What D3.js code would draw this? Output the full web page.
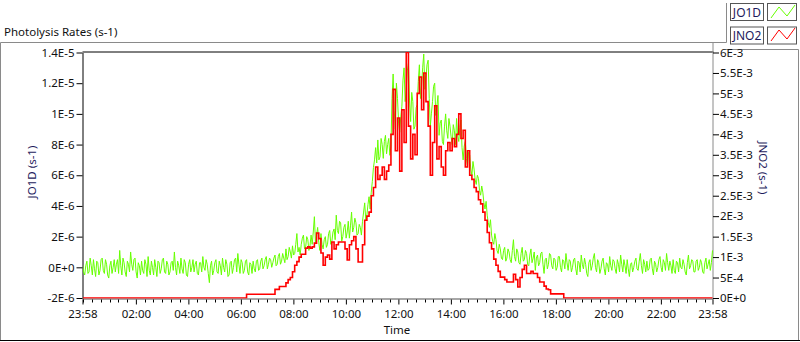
<!DOCTYPE html>
<html><head><meta charset="utf-8">
<script src="https://cdn.jsdelivr.net/npm/d3@7"></script>
<style>
body{margin:0;background:#fff}
svg{display:block}
text{font-family:"Noto Sans","Open Sans",sans-serif;}
</style>
</head><body>
<svg id="chart" width="800" height="342"></svg>
<script>
// ---- axis tick definitions ----
const xTickMinutes = [0,122,242,362,482,602,722,842,962,1082,1202,1322,1440]; // minutes after 23:58
const xTickLabels = ["23:58","02:00","04:00","06:00","08:00","10:00","12:00","14:00","16:00","18:00","20:00","22:00","23:58"];
const jo1dTicks = [-2,0,2,4,6,8,10,12,14];            // units of 1E-6 s-1
const jo1dTickLabels = ["-2E-6","0E+0","2E-6","4E-6","6E-6","8E-6","1E-5","1.2E-5","1.4E-5"];
const jno2Ticks = [0,0.5,1,1.5,2,2.5,3,3.5,4,4.5,5,5.5,6]; // units of 1E-3 s-1
const jno2TickLabels = ["0E+0","5E-4","1E-3","1.5E-3","2E-3","2.5E-3","3E-3","3.5E-3","4E-3","4.5E-3","5E-3","5.5E-3","6E-3"];
const seriesNames = ["JO1D","JNO2"];

// ---- JO1D: 2.5-minute samples from 23:58 to 23:58, units of 1E-6 s-1 ----
const jo1d = [
 0.2,-0.3,-0.5,0.1,0.4,-0.4,-0.3,0.6,0.1,-0.5,0.5,-0.1,-0.6,0.4,0.3,-0.5,-0.2,0.5,0.6,-0.2,
 -0.4,0.5,0.2,-0.5,-0.7,0.1,0.4,-0.4,0.0,0.5,-0.3,0.2,0.5,-0.4,1.1,0.1,-0.5,0.6,0.3,-0.3,
 -0.6,0.4,0.2,-0.3,1.0,0.2,-0.2,0.5,0.6,-0.3,-0.7,0.3,0.1,-0.5,0.4,-0.2,-0.4,0.5,0.2,-0.6,
 0.7,-0.2,-0.5,0.4,0.0,-0.5,0.5,0.0,-0.6,0.4,0.3,-0.4,-0.1,0.5,0.6,-0.3,-0.4,0.4,0.2,-0.5,
 -0.3,0.3,0.4,-0.2,1.0,0.0,-0.5,0.4,0.1,-0.4,0.6,-0.1,-0.4,0.5,0.3,-0.5,-0.6,0.2,0.5,-0.3,
 0.0,0.5,-0.3,0.2,0.4,-0.4,-0.5,0.3,0.3,-0.3,0.7,0.0,-0.2,0.5,0.2,-0.4,-1.0,0.1,0.4,-0.5,
 -0.2,0.3,0.5,-0.3,-0.4,0.4,0.1,-0.5,0.6,0.0,-0.3,0.5,0.2,-0.6,-0.5,0.3,0.4,-0.4,0.0,0.5,
 0.6,-0.3,0.9,0.2,-0.4,0.5,0.3,-0.4,-0.2,0.4,0.5,-0.3,-0.5,0.3,0.2,-0.4,0.4,-0.1,-0.3,0.4,
 0.5,-0.2,-0.1,0.4,0.6,-0.1,0.1,0.5,0.7,-0.1,0.2,0.6,0.5,0.0,0.3,0.6,0.8,0.1,0.2,0.7,
 0.9,0.2,0.4,0.9,0.6,0.3,1.2,0.5,0.7,1.3,1.0,0.6,1.4,0.8,0.9,1.5,2.2,1.0,1.3,0.8,
 1.5,1.9,2.1,1.2,1.3,2.0,1.8,1.1,1.4,2.1,1.5,2.3,3.3,1.6,2.1,2.6,1.6,1.1,2.2,1.5,
 1.2,1.8,2.0,1.3,1.5,2.2,2.4,1.5,1.7,2.3,2.5,1.8,3.4,2.4,2.2,3.0,2.9,1.7,2.0,2.6,
 2.8,1.9,2.3,3.0,1.9,2.7,3.6,2.3,2.6,3.2,2.9,2.1,2.2,2.8,2.6,2.1,3.0,3.6,4.2,3.1,
 3.4,4.1,4.6,3.8,4.9,5.6,6.5,7.0,7.8,6.8,8.3,7.0,7.2,8.4,8.0,7.1,8.2,8.6,7.4,8.0,
 8.4,7.3,7.9,11.0,12.6,10.2,9.0,12.0,11.0,9.4,8.8,9.8,10.5,12.2,13.0,10.8,11.6,12.8,13.3,10.9,
 9.5,11.4,10.8,9.0,9.2,10.4,10.6,12.1,13.2,11.0,11.8,13.0,13.9,11.6,12.4,13.2,13.5,11.0,9.2,10.0,
 10.8,11.8,12.0,9.9,10.5,11.2,8.6,9.4,9.6,8.2,8.0,9.2,10.0,8.9,8.4,9.7,9.2,8.5,8.0,9.3,
 8.9,8.0,9.7,8.6,8.2,9.1,9.6,7.8,7.0,7.9,8.2,7.1,6.6,7.5,7.3,6.4,6.0,6.9,6.4,5.7,
 5.4,6.0,5.8,5.0,4.7,5.3,4.9,4.2,3.8,4.3,3.4,2.9,2.6,3.1,2.1,1.7,1.5,2.2,1.8,1.1,
 0.9,1.5,1.2,0.6,0.5,1.1,1.3,0.4,0.6,1.2,1.0,0.5,0.3,1.1,1.8,0.7,0.4,1.2,1.0,0.3,
 0.2,0.9,1.3,0.4,0.5,1.1,0.9,0.2,0.1,0.8,1.2,0.3,0.6,1.0,-0.2,0.6,0.8,0.1,0.3,0.9,
 1.0,0.2,-0.4,0.5,0.6,-0.1,0.2,0.9,0.8,0.1,-0.1,0.6,0.5,-0.2,0.0,0.7,0.7,0.0,-0.3,0.5,
 0.4,-0.1,0.9,0.3,-0.2,0.5,0.4,-0.3,0.0,0.5,0.6,-0.1,-0.5,0.4,0.3,-0.3,0.8,0.2,-0.1,0.6,
 0.2,-0.4,-0.6,0.3,0.5,-0.2,0.1,0.6,0.9,0.0,-0.3,0.5,0.3,-0.4,-0.1,0.4,0.6,-0.1,-0.5,0.3,
 0.2,-0.3,0.7,0.1,-0.2,0.5,0.4,-0.1,-0.4,0.5,0.2,-0.3,0.8,0.2,-0.3,0.5,0.1,-0.4,0.5,-0.1,
 -0.6,0.2,0.3,-0.3,0.0,0.4,0.6,-0.1,-0.2,0.4,0.9,0.1,-0.4,0.5,0.2,-0.3,0.4,-0.2,-0.1,0.5,
 0.6,-0.1,-0.5,0.4,0.2,-0.3,0.0,0.5,0.7,0.0,-0.3,0.5,0.3,-0.2,0.9,0.3,-0.2,0.4,0.1,-0.4,
 0.5,-0.2,-0.4,0.4,0.3,-0.3,0.6,0.0,-0.1,0.5,0.2,-0.3,-0.5,0.3,0.8,-0.1,0.1,0.5,0.4,-0.3,
 -0.3,0.4,0.5,-0.2,0.0,0.5,0.3,-0.3,-0.4,0.3,0.6,-0.1,0.2,0.5,-0.2,0.3,1.1
];
// ---- JNO2: 5-minute samples from 23:58 to 23:58, units of 1E-3 s-1 ----
const jno2 = [
 0,0,0,0,0,0,0,0,0,0,
 0,0,0,0,0,0,0,0,0,0,
 0,0,0,0,0,0,0,0,0,0,
 0,0,0,0,0,0,0,0,0,0,
 0,0,0,0,0,0,0,0,0,0,
 0,0,0,0,0,0,0,0,0,0,
 0,0,0,0,0,0,0,0,0,0,
 0,0,0,0,0,0.09,0.09,0.09,0.09,0.09,
 0.09,0.09,0.09,0.09,0.09,0.09,0.09,0.09,0.21,0.21,
 0.28,0.28,0.28,0.37,0.45,0.5,0.64,0.8,0.89,1.0,
 1.07,1.07,1.22,1.25,1.22,1.25,1.34,1.59,1.45,1.1,
 0.8,1.0,1.05,0.95,1.37,1.2,1.3,1.37,1.37,1.37,
 1.2,0.93,1.3,1.4,1.5,1.2,0.88,0.88,1.3,1.9,
 2.0,2.1,2.5,2.7,3.2,2.9,3.0,3.2,2.9,3.1,
 3.25,4.0,5.1,3.6,4.4,3.1,4.6,3.8,6.0,4.2,
 3.4,4.0,3.5,5.0,5.4,4.6,5.5,4.8,4.2,3.0,
 3.8,4.7,3.4,3.7,3.2,3.0,3.6,3.8,3.6,3.9,
 3.7,4.0,4.5,3.9,4.1,3.2,3.6,3.0,2.9,2.7,
 2.6,2.4,2.3,2.1,1.9,1.6,1.35,1.2,0.95,0.8,
 0.65,0.51,0.51,0.45,0.39,0.39,0.39,0.58,0.45,0.27,
 0.5,0.7,0.8,0.6,0.6,0.65,0.6,0.6,0.5,0.39,
 0.39,0.29,0.22,0.2,0.1,0.1,0.1,0.1,0.1,0.1,
 0,0,0,0,0,0,0,0,0,0,
 0,0,0,0,0,0,0,0,0,0,
 0,0,0,0,0,0,0,0,0,0,
 0,0,0,0,0,0,0,0,0,0,
 0,0,0,0,0,0,0,0,0,0,
 0,0,0,0,0,0,0,0,0,0,
 0,0,0,0,0,0,0,0,0
];

const svg = d3.select("#chart");
const W = 800, H = 342;
const plot = {left: 82.5, right: 712.5, top: 52.5, bottom: 298.5};
const span = 1440;
const stepL = span / (jo1d.length - 1);
const stepR = span / (jno2.length - 1);

const x = d3.scaleLinear().domain([0, span]).range([plot.left, plot.right]);
const yL = d3.scaleLinear().domain([-2, 14]).range([plot.bottom - 0.5, plot.top]);
const yR = d3.scaleLinear().domain([0, 6]).range([plot.bottom - 0.5, plot.top]);

const frameGray = "#8a8a8a";
const txt = "#111";
const navy = "#1d1a5c";
const fs = 11.5;

// outer frame
svg.append("rect").attr("x",0).attr("y",0).attr("width",W).attr("height",H).attr("fill","#fff");
svg.append("path").attr("d","M0.5,341 V42.5 H726.5 V3").attr("fill","none").attr("stroke",frameGray);
svg.append("path").attr("d","M725,49.5 H798.5 V341").attr("fill","none").attr("stroke",frameGray);
svg.append("line").attr("x1",0).attr("x2",800).attr("y1",340.5).attr("y2",340.5).attr("stroke","#000");

// title
svg.append("text").attr("x",4).attr("y",36).attr("font-size",fs).attr("fill",txt).text("Photolysis Rates (s-1)");

// plot area borders
svg.append("line").attr("x1",plot.left).attr("x2",plot.right+1).attr("y1",plot.top-0.5).attr("y2",plot.top-0.5).attr("stroke","#000");
svg.append("line").attr("x1",plot.right+0.5).attr("x2",plot.right+0.5).attr("y1",42).attr("y2",plot.bottom+0.5).attr("stroke",frameGray);
svg.append("line").attr("x1",plot.left).attr("x2",plot.right+1).attr("y1",plot.bottom+0.5).attr("y2",plot.bottom+0.5).attr("stroke",frameGray).attr("stroke-width",1.5);

// axes
const leftAxis = d3.axisLeft(yL).tickValues(jo1dTicks).tickFormat((d,i)=>jo1dTickLabels[i]).tickSize(6).tickSizeOuter(0).tickPadding(2);
const gL = svg.append("g").attr("transform",`translate(${plot.left},0)`).call(leftAxis);
const rightAxis = d3.axisRight(yR).tickValues(jno2Ticks).tickFormat((d,i)=>jno2TickLabels[i]).tickSize(6).tickSizeOuter(0).tickPadding(1);
const gR = svg.append("g").attr("transform",`translate(${plot.right+0.5},0)`).call(rightAxis);
gR.select(".domain").remove();
const bottomAxis = d3.axisBottom(x).tickValues(xTickMinutes).tickFormat((d,i)=>xTickLabels[i]).tickSize(5).tickSizeOuter(0).tickPadding(5);
const gB = svg.append("g").attr("transform",`translate(0,${plot.bottom+1})`).call(bottomAxis);
gB.select(".domain").remove();
const minorTicks = d3.range(2, span, 20).filter(m => !xTickMinutes.includes(m));
gB.selectAll(".minor").data(minorTicks).join("line").attr("class","minor")
  .attr("x1",d=>Math.round(x(d))+0.5).attr("x2",d=>Math.round(x(d))+0.5).attr("y1",0).attr("y2",3).attr("stroke","#000");
[gL,gR,gB].forEach(g=>{
  g.selectAll("text").attr("font-size",fs).attr("fill",txt).attr("font-family","Noto Sans");
  g.selectAll(".tick line").attr("stroke","#000");
  g.select(".domain").attr("stroke","#000");
});

// axis titles
svg.append("text").attr("transform","translate(36,172) rotate(-90)").attr("text-anchor","middle").attr("font-size",fs).attr("fill",navy).text("JO1D (s-1)");
svg.append("text").attr("transform","translate(759,168) rotate(90)").attr("text-anchor","middle").attr("font-size",fs).attr("fill",navy).text("JNO2 (s-1)");
svg.append("text").attr("x",397).attr("y",334).attr("text-anchor","middle").attr("font-size",fs).attr("fill",txt).text("Time");

// data lines
svg.append("clipPath").attr("id","pc").append("rect")
  .attr("x",plot.left+0.5).attr("y",plot.top-0.5).attr("width",plot.right-plot.left+0.5).attr("height",plot.bottom-plot.top+0.5);
const gData = svg.append("g").attr("clip-path","url(#pc)");
const lineL = d3.line().x((d,i)=>x(i*stepL)).y(d=>yL(d));
const lineR = d3.line().x((d,i)=>x(i*stepR)).y(d=>yR(d)).curve(d3.curveStepAfter);
gData.append("path").attr("d",lineL(jo1d)).attr("fill","none").attr("stroke","#66ff00").attr("stroke-width",1);
gData.append("path").attr("d",lineR(jno2)).attr("fill","none").attr("stroke","#ff0000").attr("stroke-width",1.6);

// legend
const legendColors = ["#66ff00","#ff0000"];
const sampleY = [[18,7,16,5],[41,30,39,28]];
seriesNames.forEach((name,i)=>{
  const y0 = 3.5 + i*23.5;
  svg.append("rect").attr("x",730.5).attr("y",y0).attr("width",33).attr("height",17).attr("fill","#fff").attr("stroke","#555");
  svg.append("text").attr("x",747).attr("y",y0+13).attr("text-anchor","middle").attr("font-size",12).attr("fill",navy).text(name);
  svg.append("rect").attr("x",767.5).attr("y",y0).attr("width",29).attr("height",17).attr("fill","#fff").attr("stroke","#555");
  const pts = sampleY[i].map((yy,k)=>[771 + k*8, yy]);
  svg.append("path").attr("d",d3.line()(pts)).attr("fill","none").attr("stroke",legendColors[i]).attr("stroke-width",1);
});
</script>
</body></html>
